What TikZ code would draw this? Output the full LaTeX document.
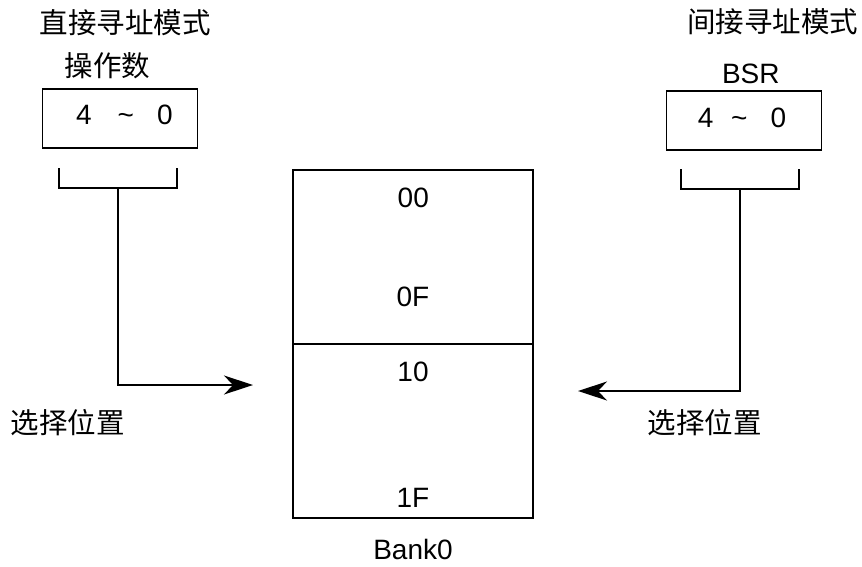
\documentclass[tikz,border=0pt]{standalone}
\usepackage{fontspec}
\setmainfont{Liberation Sans}
\newfontfamily\cjk{Noto Sans CJK SC}
\usetikzlibrary{arrows.meta}
\tikzset{
  lat/.style={inner sep=0pt, font=\fontsize{28}{32}\selectfont},
  han/.style={inner sep=0pt, font=\cjk\fontsize{28.5}{32}\selectfont},
  line/.style={line width=1.5pt},
  regbox/.style={draw, line width=1.5pt, minimum width=155pt, minimum height=59pt, inner sep=0pt},
  cell/.style={draw, line width=1.5pt, minimum width=240pt, minimum height=174pt, inner sep=0pt},
  arr/.style={line width=1.5pt, -{Stealth[length=29pt,width=19pt,inset=9pt]}}
}
\begin{document}
\begin{tikzpicture}[x=1pt,y=-1pt]
\useasboundingbox (0,0) rectangle (862,566);
% left side
\node[han] (ltitle) at (125,23) {直接寻址模式};
\node[han] (lop) at (107.5,66) {操作数};
\node[regbox] (lbox) at (120,118.5) {};
\node[lat, anchor=west] (lbits) at (76,114.7) {4\hspace{25.9pt}\textasciitilde\hspace{23.2pt}0};
\coordinate (lbl) at (59,168);
\coordinate (lbr) at (177,168);
\coordinate (lstem) at (118,188);
\draw[line] (lbl) -- (59,188) -- (177,188) -- (lbr);
\coordinate (ltip) at (253,385);
\draw[arr] (lstem) |- (ltip);
\node[han] (lsel) at (67.5,423) {选择位置};
% right side
\node[han] (rtitle) at (772.5,22) {间接寻址模式};
\node[lat] (bsr) at (750.8,73.7) {BSR};
\node[regbox] (rbox) at (744,120.3) {};
\node[lat, anchor=west] (rbits) at (697.6,117.5) {4\hspace{17.7pt}\textasciitilde\hspace{23.2pt}0};
\coordinate (rbl) at (681,169);
\coordinate (rbr) at (799,169);
\coordinate (rstem) at (740,189);
\draw[line] (rbl) -- (681,189) -- (799,189) -- (rbr);
\coordinate (rtip) at (578,391);
\draw[arr] (rstem) |- (rtip);
\node[han] (rsel) at (704.5,423) {选择位置};
% bank
\node[cell] (top) at (413,257) {};
\node[cell] (bot) at (413,431) {};
\node[lat] (a00) at (413.3,197.5) {00};
\node[lat] (a0F) at (413,297) {0F};
\node[lat] (a10) at (413,372) {10};
\node[lat] (a1F) at (413,498) {1F};
\node[lat] (bank) at (413,549) {Bank0};
\end{tikzpicture}
\end{document}
